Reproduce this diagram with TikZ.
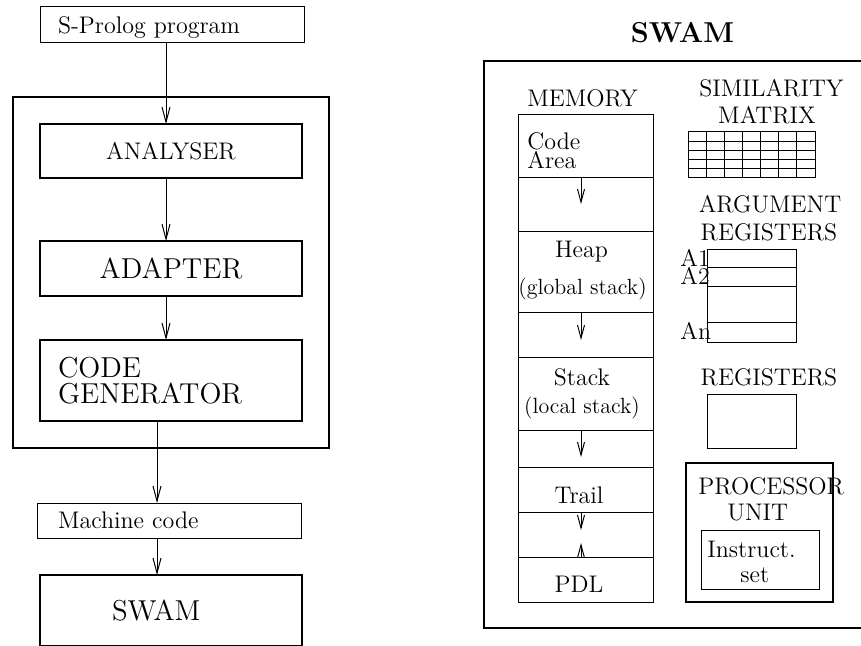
\documentclass[tikz,border=0pt]{standalone}
\usepackage{tikz}
\usetikzlibrary{arrows.meta}
\tikzset{
  rule/.style={line width=0.5pt},
  heavy/.style={line width=1pt},
  ar/.style={-{Straight Barb[length=7.5pt,width=4pt]},rule},
  mar/.style={-{Straight Barb[length=6.5pt,width=3.5pt]},rule},
  txt/.style={inner sep=0pt,font=\fontsize{12}{14}\selectfont},
  big/.style={inner sep=0pt,font=\fontsize{14.4}{13}\selectfont},
  box/.style={draw,heavy,outer sep=0pt,minimum width=131pt},
  slim/.style={draw,rule,inner sep=0pt,outer sep=0pt},
  lab/.style={txt,anchor=base},
  labw/.style={txt,anchor=base west},
  paren/.style={anchor=base,inner sep=0pt,font=\fontsize{11}{13}\selectfont}
}
\begin{document}
\begin{tikzpicture}[x=0.5pt,y=-0.5pt]
\useasboundingbox (0,0) rectangle (861,646);
\coordinate (ax) at (166,0);
\coordinate (bx) at (157,0);
\node[box,big,minimum width=158pt,minimum height=175.5pt] (front) at (171,272.5) {};
\node[slim,txt,minimum width=132pt,minimum height=18pt,text width=114pt,inner xsep=9pt,align=left,text depth=0pt] (prog) at (172,25) {S-Prolog program};
\node[box,txt,minimum height=27pt] (ana) at (171,151) {ANALYSER};
\node[box,big,minimum height=27.5pt] (adapt) at (171,268.5) {ADAPTER};
\node[box,big,minimum height=40.5pt,text width=113pt,inner xsep=9pt,align=left] (code) at (171,380.5) {CODE\\GENERATOR};
\node[slim,txt,minimum width=132pt,minimum height=17.5pt,text width=111pt,inner xsep=10.5pt,align=left,text depth=0pt] (mach) at (169,520.5) {Machine code};
\node[box,big,minimum height=35.5pt,text width=59pt,inner xsep=36pt,align=left] (swaml) at (171,610.5) {SWAM};
\draw[ar] (prog.south -| ax) -- (ana.north -| ax);
\draw[ar] (ana.south -| ax) -- (adapt.north -| ax);
\draw[ar] (adapt.south -| ax) -- (code.north -| ax);
\draw[ar] (code.south -| bx) -- (mach.north -| bx);
\draw[ar] (mach.south -| bx) -- (swaml.north -| bx);

\node[anchor=base,inner sep=0pt,font=\fontsize{14.4}{17}\selectfont\bfseries] (ttitle) at (682.5,43) {SWAM};
\node[draw,heavy,outer sep=0pt,anchor=north west,minimum width=210pt,minimum height=283.5pt] (swamr) at (484,61) {};

\node[lab] (tmem) at (582.5,107) {MEMORY};
\foreach \nm/\t/\b in {mcode/115/178,mgap1/178/232,mheap/232/313,mgap2/313/358,mstack/358/430,mgap3/430/467,mtrail/467/512,mgap4/512/557,mpdl/557/602}
  \node[slim,minimum width=67.5pt,minimum height={(\b-\t)/2}] (\nm) at (585.5,{(\t+\b)/2}) {};
\coordinate (mx) at (581,0);
\draw[mar] (mgap1.north -| mx) -- ++(0,26);
\draw[mar] (mgap2.north -| mx) -- ++(0,27);
\draw[mar] (mgap3.north -| mx) -- ++(0,27);
\draw[mar] (mgap4.north -| mx) -- ++(0,18);
\draw[mar] (mgap4.south -| mx) -- ++(0,-14);
\node[labw] (tcode) at (527,150) {Code};
\node[labw] (tarea) at (527,169) {Area};
\node[lab] (theap) at (581.5,258) {Heap};
\node[paren] (tglob) at (582.5,295) {(global stack)};
\node[lab] (tstack) at (582,386) {Stack};
\node[paren] (tloc) at (582,413) {(local stack)};
\node[lab] (ttrail) at (579,503) {Trail};
\node[lab] (tpdl) at (579,592) {PDL};

\node[lab] (tsim) at (771.5,97) {SIMILARITY};
\node[lab] (tmat) at (767,124) {MATRIX};
\node[slim,minimum width=63.5pt,minimum height=23pt] (simmat) at (751.5,155) {};
\foreach \i in {1,...,6}
  \draw[rule] ({688+\i*127/7},132) -- ({688+\i*127/7},178);
\foreach \j in {1,...,4}
  \draw[rule] (688,{132+\j*46/5}) -- (815,{132+\j*46/5});

\node[lab] (targ) at (770,213) {ARGUMENT};
\node[lab] (targreg) at (769,241) {REGISTERS};
\node[slim,minimum width=44.5pt,minimum height=46.5pt] (argreg) at (751.5,296.5) {};
\foreach \y in {268,287,323}
  \draw[rule] (707,\y) -- (796,\y);
\node[labw] (ta1) at (680,267) {A1};
\node[labw] (ta2) at (680,285) {A2};
\node[labw] (tan) at (680,340) {An};

\node[lab] (tregs) at (769,386) {REGISTERS};
\node[slim,minimum width=44.5pt,minimum height=27pt] (regs) at (751.5,421) {};

\node[draw,heavy,outer sep=0pt,minimum width=73.5pt,minimum height=69.5pt] (proc) at (759.5,532.5) {};
\node[labw] (tproc) at (698,494) {PROCESSOR};
\node[labw] (tunit) at (727,520) {UNIT};
\node[slim,minimum width=59pt,minimum height=29.5pt] (instr) at (760,559.5) {};
\node[labw] (tinstr) at (707,557) {Instruct.};
\node[labw] (tset) at (740,582) {set};
\end{tikzpicture}
\end{document}
